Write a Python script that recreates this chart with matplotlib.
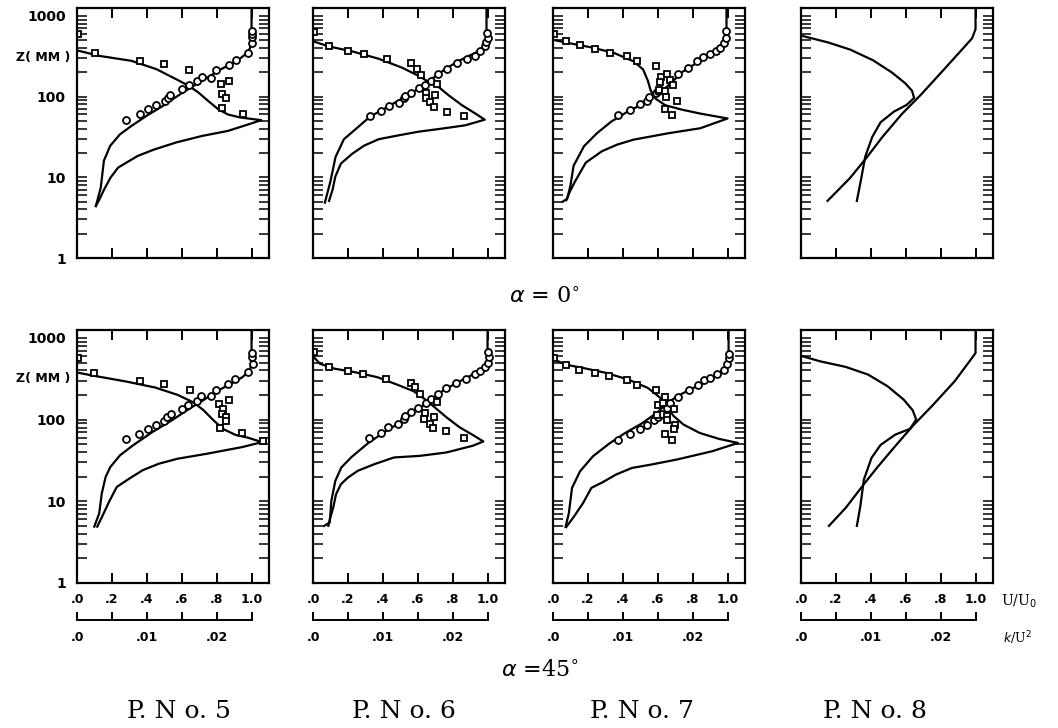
import matplotlib
matplotlib.use("Agg")
import matplotlib.pyplot as plt
from matplotlib.ticker import FixedLocator, FixedFormatter, LogLocator, NullFormatter

# k value that is drawn at U/U0 = 1.0 (lower scale .0 ... .025)
K_FULL = 0.025
Z_TOP = 1250

# ---- alpha = 0 deg ------------------------------------------------------
a0p5_u_line = [(0.108, 4.4), (0.136, 7.4), (0.154, 16), (0.19, 24.5), (0.246, 34),
               (0.31, 43), (0.40, 58), (0.49, 76), (0.605, 112), (0.715, 156),
               (0.825, 218), (0.917, 277), (0.98, 353), (1.0, 446), (1.0, 1250)]
a0p5_u_pts = [(0.278, 51), (0.36, 60.5), (0.408, 70), (0.454, 78), (0.504, 88),
              (0.522, 97), (0.535, 104), (0.60, 123), (0.642, 140), (0.688, 156),
              (0.715, 175), (0.77, 172), (0.798, 212), (0.868, 247), (0.912, 282),
              (0.982, 351), (1.0, 467), (1.0, 540), (1.004, 593), (1.0, 640)]
a0p5_k_line = [(0.0003, 368), (0.0032, 319), (0.0078, 277), (0.0114, 218), (0.0142, 164),
               (0.016, 136), (0.0174, 112), (0.0188, 88), (0.0202, 70), (0.0216, 60),
               (0.0234, 55), (0.0264, 51), (0.0243, 44.5), (0.0216, 37.5), (0.0179, 32.5),
               (0.0142, 27), (0.011, 22), (0.0087, 18.4), (0.0059, 13.2), (0.0048, 9.9),
               (0.0039, 7.1), (0.0032, 5.3), (0.0027, 4.4)]
a0p5_k_pts = [(0.0001, 593), (0.0026, 344), (0.009, 277), (0.0125, 252), (0.016, 214),
              (0.0206, 142), (0.0218, 156), (0.0208, 107), (0.0214, 97), (0.0208, 72),
              (0.0238, 60)]

a0p6_u_line = [(0.068, 4.85), (0.10, 8.9), (0.129, 17.8), (0.177, 29.6), (0.253, 41),
               (0.329, 56.8), (0.414, 71.6), (0.51, 94.6), (0.605, 125), (0.68, 165),
               (0.757, 218), (0.833, 275), (0.909, 331), (0.966, 380), (0.994, 480),
               (0.994, 1250)]
a0p6_u_pts = [(0.329, 56.8), (0.39, 66.5), (0.433, 77), (0.49, 84), (0.519, 94.6),
              (0.529, 101), (0.563, 112), (0.605, 127), (0.639, 140), (0.677, 158),
              (0.719, 190), (0.766, 222), (0.823, 258), (0.88, 288), (0.928, 322),
              (0.956, 363), (0.985, 417), (0.994, 468), (1.004, 527), (0.998, 605)]
a0p6_k_line = [(0.00014, 480), (0.0023, 417), (0.0056, 363), (0.0094, 294), (0.0127, 229),
               (0.0151, 181), (0.0165, 153), (0.018, 131), (0.0194, 104), (0.0213, 78.5),
               (0.0232, 62), (0.0246, 51.7), (0.0218, 44), (0.0184, 40), (0.0151, 36.7),
               (0.0118, 32.5), (0.0094, 29.6), (0.0073, 24.6), (0.0056, 19.5), (0.004, 14.8),
               (0.0032, 10.2), (0.0028, 7.0), (0.0023, 5.1)]
a0p6_k_pts = [(0.0001, 635), (0.0023, 417), (0.005, 370), (0.0073, 340), (0.0106, 294),
              (0.0141, 263), (0.0149, 222), (0.0154, 185), (0.0177, 144), (0.0162, 111),
              (0.0175, 104), (0.0162, 96), (0.0168, 86), (0.0173, 75), (0.0192, 65),
              (0.0216, 57)]

a0p7_u_line = [(0.056, 5.0), (0.081, 5.4), (0.10, 7.9), (0.118, 13.9), (0.178, 24.3),
               (0.251, 35), (0.333, 48.8), (0.425, 64.5), (0.516, 81.5), (0.571, 98),
               (0.626, 118), (0.68, 149), (0.735, 198), (0.808, 249), (0.881, 306),
               (0.945, 379), (0.982, 457), (0.994, 632), (0.994, 1250)]
a0p7_u_pts = [(0.375, 58.8), (0.443, 68.9), (0.501, 80), (0.54, 87.7), (0.549, 100),
              (0.589, 110), (0.604, 118), (0.717, 192), (0.772, 227), (0.823, 274),
              (0.859, 306), (0.90, 336), (0.932, 369), (0.958, 405), (0.982, 457),
              (0.991, 535), (0.994, 645)]
a0p7_k_line = [(0.0001, 502), (0.0024, 457), (0.0056, 405), (0.0088, 345), (0.0115, 274),
               (0.0129, 217), (0.0136, 156), (0.014, 118), (0.0147, 94), (0.0161, 78),
               (0.0184, 69), (0.0211, 61.5), (0.025, 53.5), (0.0211, 40.5), (0.0166, 35.2),
               (0.0115, 29.2), (0.0092, 25.4), (0.007, 21), (0.0047, 15.2), (0.0031, 8.7),
               (0.0024, 6.6), (0.0019, 5.2)]
a0p7_k_pts = [(0.0001, 588), (0.0018, 488), (0.0038, 436), (0.006, 389), (0.0081, 345),
              (0.0106, 315), (0.0121, 279), (0.0147, 238), (0.0155, 175), (0.0163, 192),
              (0.0153, 153), (0.0168, 159), (0.0172, 140), (0.0152, 120), (0.016, 116),
              (0.0162, 100), (0.0177, 89), (0.016, 71), (0.0171, 59)]

a0p8_u_line = [(0.152, 5.1), (0.281, 9.8), (0.373, 17.2), (0.466, 31.5), (0.577, 60.5),
               (0.688, 106), (0.799, 194), (0.909, 355), (0.98, 526), (1.0, 682),
               (1.0, 1250)]
a0p8_k_line = [(0.008, 5.1), (0.0086, 9.4), (0.0092, 18), (0.0102, 31.5), (0.0114, 48),
               (0.0133, 65), (0.0151, 78.5), (0.0162, 96), (0.0159, 118), (0.0149, 147),
               (0.013, 199), (0.0103, 282), (0.007, 383), (0.0038, 470), (0.0001, 566)]

# ---- alpha = 45 deg -----------------------------------------------------
a45p5_u_line = [(0.099, 4.9), (0.127, 7.1), (0.142, 12.5), (0.164, 19.9), (0.191, 26.3),
                (0.246, 36.5), (0.32, 48.3), (0.43, 70), (0.54, 97), (0.651, 139),
                (0.724, 173), (0.798, 221), (0.871, 267), (0.945, 328), (0.991, 395),
                (1.0, 522), (1.0, 1250)]
a45p5_u_pts = [(0.278, 58), (0.357, 67), (0.408, 77), (0.452, 87), (0.50, 97),
               (0.518, 107), (0.537, 117), (0.599, 135), (0.636, 152), (0.688, 170),
               (0.711, 196), (0.765, 196), (0.798, 230), (0.866, 272), (0.908, 313),
               (0.982, 384), (1.006, 476), (1.004, 585), (1.004, 660)]
a45p5_k_line = [(0.0, 377), (0.0025, 343), (0.0071, 292), (0.0112, 247), (0.0144, 201),
                (0.0167, 162), (0.0181, 131), (0.0195, 99), (0.0209, 77), (0.0227, 65),
                (0.0245, 60), (0.0265, 53), (0.0236, 46), (0.0186, 38.2), (0.0144, 33.2),
                (0.0117, 28.8), (0.0094, 24), (0.0075, 19), (0.0057, 15), (0.0046, 9.9),
                (0.0036, 6.5), (0.0029, 4.9)]
a45p5_k_pts = [(0.0001, 574), (0.0025, 370), (0.009, 298), (0.0125, 272), (0.0162, 232),
               (0.0204, 155), (0.0217, 173), (0.0209, 135), (0.0207, 117), (0.0213, 107),
               (0.0213, 97), (0.0205, 78), (0.0237, 69), (0.0266, 54)]

a45p6_u_line = [(0.064, 5.0), (0.096, 5.5), (0.105, 10.1), (0.128, 17.8), (0.162, 25.9),
                (0.218, 34.4), (0.313, 51), (0.407, 70), (0.501, 93), (0.595, 129),
                (0.67, 171), (0.746, 227), (0.821, 280), (0.896, 338), (0.972, 420),
                (1.0, 531), (1.0, 1250)]
a45p6_u_pts = [(0.322, 59.5), (0.388, 68), (0.429, 80.5), (0.486, 88.5), (0.52, 102),
               (0.529, 112), (0.561, 123), (0.601, 139), (0.648, 159), (0.674, 180),
               (0.714, 203), (0.761, 243), (0.817, 280), (0.874, 316), (0.93, 357),
               (0.957, 393), (0.987, 440), (1.0, 493), (1.006, 584), (1.0, 673)]
a45p6_k_line = [(0.0001, 584), (0.001, 483), (0.0031, 420), (0.0059, 382), (0.0092, 331),
                (0.012, 269), (0.0144, 223), (0.0163, 171), (0.0177, 135), (0.0191, 107),
                (0.021, 80.5), (0.0229, 64.8), (0.0244, 54), (0.0229, 47.9), (0.0191, 39.6),
                (0.0153, 36), (0.0116, 34.4), (0.0088, 28.5), (0.0064, 23.6), (0.005, 19.5),
                (0.004, 16.2), (0.0033, 12.2), (0.0029, 8.4), (0.0024, 6.0), (0.0022, 5.0)]
a45p6_k_pts = [(0.0001, 673), (0.0023, 440), (0.005, 393), (0.0072, 357), (0.0105, 316),
               (0.014, 280), (0.0146, 250), (0.0153, 203), (0.0177, 163), (0.016, 120),
               (0.0173, 109), (0.0159, 102), (0.0168, 88.5), (0.0172, 79), (0.0191, 73),
               (0.0216, 59.5)]

a45p7_u_line = [(0.072, 4.85), (0.091, 7.2), (0.109, 14.6), (0.155, 23.3), (0.229, 35.6),
                (0.322, 50.8), (0.414, 68.7), (0.506, 89), (0.599, 123), (0.654, 160),
                (0.719, 197), (0.793, 238), (0.876, 287), (0.946, 356), (0.991, 450),
                (1.006, 597), (1.006, 1250)]
a45p7_u_pts = [(0.373, 57), (0.442, 66.7), (0.497, 76.8), (0.538, 86.9), (0.577, 100),
               (0.603, 108), (0.627, 118), (0.654, 139), (0.673, 160), (0.719, 190),
               (0.778, 229), (0.83, 268), (0.867, 303), (0.90, 324), (0.941, 366),
               (0.978, 409), (0.996, 485), (1.006, 569), (1.009, 643)]
a45p7_k_line = [(0.0, 553), (0.0018, 471), (0.0043, 429), (0.0076, 373), (0.0108, 309),
                (0.0136, 244), (0.0154, 184), (0.0164, 139), (0.0173, 110), (0.0187, 86.9),
                (0.021, 68.7), (0.0238, 58), (0.0265, 51.8), (0.0228, 41), (0.0177, 32.4),
                (0.014, 28.1), (0.0113, 25.6), (0.009, 21.2), (0.0071, 17.1), (0.0055, 14.6),
                (0.0043, 9.5), (0.003, 6.5), (0.0019, 4.85)]
a45p7_k_pts = [(0.0001, 569), (0.0018, 471), (0.0037, 409), (0.006, 373), (0.008, 339),
               (0.0106, 303), (0.012, 268), (0.0147, 233), (0.0161, 190), (0.015, 153),
               (0.0157, 160), (0.0173, 135), (0.0149, 115), (0.0163, 110), (0.0163, 98),
               (0.0175, 87), (0.0173, 77), (0.016, 67), (0.0171, 57)]

a45p8_u_line = [(0.16, 5.0), (0.256, 8.3), (0.366, 16.8), (0.439, 26.3), (0.531, 45),
                (0.642, 84.5), (0.752, 148), (0.88, 294), (0.987, 597), (1.0, 655),
                (1.0, 1250)]
a45p8_k_line = [(0.008, 5.0), (0.0085, 8.7), (0.009, 18.4), (0.0101, 34), (0.0114, 49),
                (0.0135, 65.5), (0.0156, 77), (0.0165, 100), (0.016, 130), (0.0147, 176),
                (0.0124, 256), (0.0096, 356), (0.0064, 442), (0.0027, 518), (0.0002, 597)]

u_ticks = [0.0, 0.2, 0.4, 0.6, 0.8, 1.0]
u_tick_labels = [".0", ".2", ".4", ".6", ".8", "1.0"]
k_ticks = [0.0, 0.005, 0.01, 0.015, 0.02, 0.025]
k_tick_labels = [".0", "", ".01", "", ".02", ""]
z_ticks = [1, 10, 100, 1000]
z_tick_labels = ["1", "10", "100", "1000"]
panel_titles = ["P. N o. 5", "P. N o. 6", "P. N o. 7", "P. N o. 8"]
row_titles = [r"$\alpha$ = 0$^{\circ}$", r"$\alpha$ =45$^{\circ}$"]

panels = [
    [(a0p5_u_line, a0p5_u_pts, a0p5_k_line, a0p5_k_pts),
     (a0p6_u_line, a0p6_u_pts, a0p6_k_line, a0p6_k_pts),
     (a0p7_u_line, a0p7_u_pts, a0p7_k_line, a0p7_k_pts),
     (a0p8_u_line, [], a0p8_k_line, [])],
    [(a45p5_u_line, a45p5_u_pts, a45p5_k_line, a45p5_k_pts),
     (a45p6_u_line, a45p6_u_pts, a45p6_k_line, a45p6_k_pts),
     (a45p7_u_line, a45p7_u_pts, a45p7_k_line, a45p7_k_pts),
     (a45p8_u_line, [], a45p8_k_line, [])],
]

# layout in pixels
W, H = 1058, 728
COL_LEFT = [77, 313, 553, 801]
PANEL_W = 192
ROW_TOP = [8, 330]
ROW_H = [250, 253]
TITLE_SHIFT = [6, -5, -7, -22]

fig = plt.figure(figsize=(W / 100, H / 100), dpi=100)
TICK_FONT = dict(family="DejaVu Sans", weight="bold", size=9)
ZLAB_FONT = dict(family="DejaVu Sans", weight="bold", size=10)


def px_axes(left, top, width, height):
    return fig.add_axes([left / W, 1 - (top + height) / H, width / W, height / H])


def split(pairs):
    return [p[0] for p in pairs], [p[1] for p in pairs]


for r in range(2):
    for c in range(4):
        u_line, u_pts, k_line, k_pts = panels[r][c]
        ax = px_axes(COL_LEFT[c], ROW_TOP[r], PANEL_W, ROW_H[r])
        ax.set_yscale("log")
        ax.set_xlim(0, 1.1)
        ax.set_ylim(1, Z_TOP)

        x, z = split(u_line)
        ax.plot(x, z, color="black", lw=1.6)
        kx, kz = split(k_line)
        ax.plot([v / K_FULL for v in kx], kz, color="black", lw=1.6)
        if u_pts:
            x, z = split(u_pts)
            ax.plot(x, z, "o", ms=5, mfc="white", mec="black", mew=1.3)
        if k_pts:
            kx, kz = split(k_pts)
            ax.plot([v / K_FULL for v in kx], kz, "s", ms=4.5, mfc="white",
                    mec="black", mew=1.3)

        for s in ax.spines.values():
            s.set_linewidth(1.6)
        ax.xaxis.set_major_locator(FixedLocator(u_ticks[1:]))
        ax.yaxis.set_major_locator(FixedLocator(z_ticks))
        ax.yaxis.set_minor_locator(LogLocator(base=10, subs=range(2, 10)))
        ax.yaxis.set_minor_formatter(NullFormatter())
        ax.tick_params(axis="x", which="both", direction="in", top=True, bottom=True,
                       length=7, width=1.4)
        ax.tick_params(axis="y", which="both", direction="in", left=True, right=True,
                       length=7, width=1.1, pad=8)

        if c == 0:
            ax.yaxis.set_major_formatter(FixedFormatter(z_tick_labels))
            for t in ax.get_yticklabels():
                t.set(**ZLAB_FONT)
        else:
            ax.set_yticklabels([])

        if r == 1:
            ax.xaxis.set_major_locator(FixedLocator(u_ticks))
            ax.xaxis.set_major_formatter(FixedFormatter(u_tick_labels))
            ax.tick_params(axis="x", pad=7)
            for t in ax.get_xticklabels():
                t.set(**TICK_FONT)
            # lower scale for k
            kax = px_axes(COL_LEFT[c], 600, PANEL_W, 20)
            kax.set_xlim(0, 1.1 * K_FULL)
            kax.patch.set_visible(False)
            for name, s in kax.spines.items():
                s.set_visible(name == "bottom")
            kax.spines["bottom"].set_bounds(0, K_FULL)
            kax.spines["bottom"].set_linewidth(1.4)
            kax.set_yticks([])
            kax.xaxis.set_major_locator(FixedLocator(k_ticks))
            kax.xaxis.set_major_formatter(FixedFormatter(k_tick_labels))
            kax.tick_params(axis="x", direction="in", length=6, width=1.4, pad=8)
            for t in kax.get_xticklabels():
                t.set(**TICK_FONT)
        else:
            ax.set_xticklabels([])

# texts
for y in (57, 378):
    fig.text(43 / W, 1 - y / H, "Z( MM )", ha="center", va="center", **TICK_FONT)
fig.text(545 / W, 1 - 297 / H, row_titles[0], ha="center", va="center",
         family="DejaVu Serif", size=16)
fig.text(540 / W, 1 - 670 / H, row_titles[1], ha="center", va="center",
         family="DejaVu Serif", size=16)
fig.text(1001 / W, 1 - 601 / H, "U/U$_0$", ha="left", va="center",
         family="DejaVu Serif", size=10)
fig.text(1003 / W, 1 - 638 / H, "$k$/U$^2$", ha="left", va="center",
         family="DejaVu Serif", size=9)
for c, title in enumerate(panel_titles):
    cx = COL_LEFT[c] + PANEL_W / 2 + TITLE_SHIFT[c]
    fig.text(cx / W, 1 - 712 / H, title, ha="center", va="center",
             family="DejaVu Serif", size=18)

fig.savefig("out.png", dpi=100)
